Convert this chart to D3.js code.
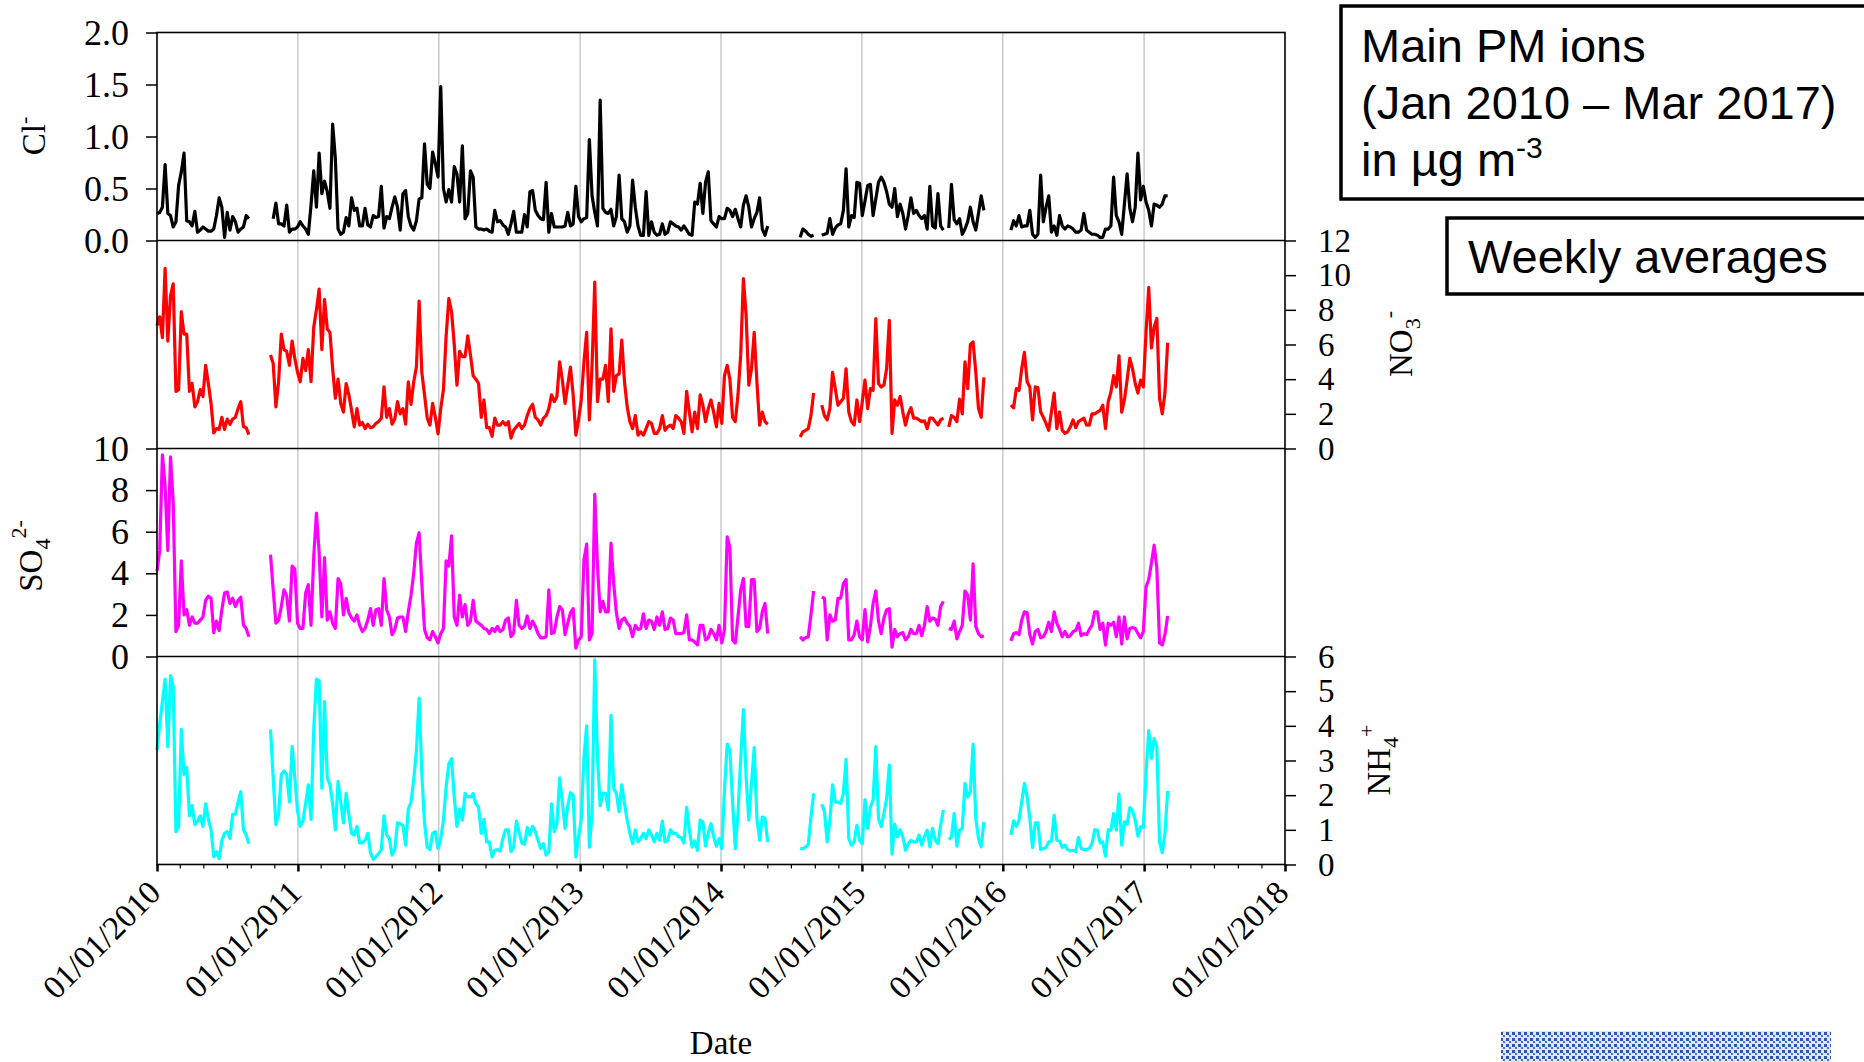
<!DOCTYPE html>
<html>
<head>
<meta charset="utf-8">
<script src="https://cdn.jsdelivr.net/npm/d3@7"></script>
<style>
  body { margin: 0; background: #fff; }
  .tick text { font-family: "Liberation Serif", "Times New Roman", serif; font-size: 36px; fill: #000; }
  .right .tick text { font-size: 33px; }
  .xaxis .tick text { font-size: 33px; }
  .ylab { font-family: "Liberation Serif", "Times New Roman", serif; font-size: 33px; }
  .box text { font-family: "Liberation Sans", Arial, sans-serif; font-size: 47px; }
</style>
</head>
<body>
<script>
// weekly samples, first one on 01/01/2010 (null = no data that week)
var weekStart = new Date(2010, 0, 1);

var clValues = [
  0.26,0.27,0.32,0.73,0.26,0.24,0.13,0.18,0.53,0.66,
  0.84,0.19,0.18,0.14,0.28,0.08,0.10,0.13,0.11,0.09,
  0.09,0.11,0.24,0.41,0.32,0.03,0.27,0.10,0.23,0.18,
  0.08,0.11,0.13,0.24,0.21,null,null,null,null,null,
  null,null,null,0.21,0.36,0.16,0.16,0.14,0.34,0.08,
  0.11,0.11,0.13,0.18,0.14,0.11,0.06,0.34,0.67,0.32,
  0.84,0.45,0.57,0.47,0.31,1.12,0.79,0.11,0.06,0.08,
  0.22,0.14,0.41,0.29,0.31,0.14,0.14,0.31,0.15,0.13,
  0.24,0.22,0.23,0.52,0.12,0.23,0.21,0.32,0.42,0.32,
  0.10,0.45,0.48,0.23,0.14,0.10,0.19,0.40,0.41,0.93,
  0.54,0.50,0.85,0.74,0.61,1.48,0.50,0.37,0.49,0.37,
  0.71,0.64,0.37,0.91,0.21,0.26,0.67,0.61,0.13,0.11,
  0.11,0.10,0.11,0.09,0.08,0.29,0.18,0.19,0.15,0.13,
  0.06,0.16,0.28,0.08,0.08,0.08,0.25,0.13,0.47,0.48,
  0.29,0.24,0.21,0.20,0.56,0.08,0.26,0.13,0.13,0.13,
  0.13,0.14,0.27,0.14,0.16,0.52,0.23,0.18,0.21,0.22,
  0.97,0.43,0.27,0.14,1.35,0.31,0.27,0.26,0.30,0.14,
  0.23,0.63,0.21,0.18,0.08,0.14,0.58,0.32,0.14,0.05,
  0.05,0.47,0.05,0.18,0.08,0.05,0.06,0.16,0.06,0.08,
  0.18,0.16,0.14,0.13,0.10,0.14,0.10,0.06,0.05,0.37,
  0.35,0.55,0.26,0.56,0.66,0.19,0.16,0.13,0.23,0.21,
  0.21,0.31,0.29,0.23,0.30,0.21,0.13,0.34,0.43,0.32,
  0.13,0.21,0.27,0.41,0.11,0.05,0.14,null,null,null,
  null,null,null,null,null,null,null,null,0.03,0.11,
  0.09,0.06,0.04,0.05,null,null,0.05,0.06,0.07,0.21,
  0.06,0.12,0.15,0.16,0.29,0.69,0.13,0.24,0.22,0.56,
  0.55,0.24,0.38,0.53,0.54,0.24,0.40,0.56,0.61,0.56,
  0.47,0.35,0.32,0.50,0.23,0.35,0.26,0.11,0.24,0.41,
  0.26,0.29,0.24,0.21,0.24,0.11,0.52,0.14,0.12,0.45,
  0.14,0.10,null,0.12,0.54,0.20,0.16,0.21,0.06,0.11,
  0.18,0.32,0.18,0.10,0.26,0.43,0.29,null,null,null,
  null,null,null,null,null,null,0.10,0.19,0.14,0.24,
  0.13,0.14,0.14,0.29,0.06,0.03,0.06,0.63,0.18,0.32,
  0.43,0.08,0.14,0.05,0.24,0.14,0.11,0.14,0.13,0.11,
  0.08,0.08,0.10,0.26,0.10,0.08,0.06,0.06,0.05,0.03,
  0.03,0.11,0.11,0.14,0.61,0.24,0.18,0.06,0.35,0.64,
  0.31,0.18,0.32,0.84,0.39,0.52,0.37,0.29,0.14,0.35,
  0.34,0.32,0.35,0.43,0.43
];

var no3Values = [
  7.1,7.6,6.4,10.4,6.2,8.8,9.5,3.3,3.4,7.9,
  6.6,6.6,3.3,3.75,2.4,2.7,3.4,3.0,4.8,3.75,
  2.6,0.9,1.15,1.1,1.8,1.1,1.7,1.4,1.7,1.8,
  2.3,2.7,1.25,1.2,0.8,null,null,null,null,null,
  null,null,5.4,4.9,2.4,3.85,6.6,5.7,5.6,4.8,
  6.2,5.2,4.4,3.85,5.2,4.5,5.7,3.85,7.0,8.0,
  9.2,5.7,8.6,6.9,6.7,4.6,2.9,4.0,2.6,2.1,
  3.75,3.1,2.2,1.25,2.3,1.35,1.5,1.15,1.4,1.2,
  1.25,1.45,1.55,1.75,3.55,1.8,2.3,1.4,1.7,2.7,
  2.0,2.3,1.4,3.85,2.55,3.85,4.7,8.5,4.4,3.1,
  1.75,1.35,2.6,1.8,0.85,2.3,3.4,6.5,8.65,7.9,
  6.0,3.65,5.6,5.3,5.3,6.5,5.4,4.2,4.0,3.75,
  1.8,2.8,1.2,1.2,0.7,1.75,1.35,1.35,1.55,1.35,
  1.55,0.6,1.05,1.25,1.45,1.15,1.35,1.9,2.3,2.55,
  1.8,1.65,1.35,1.75,1.9,2.3,3.1,2.7,3.0,5.0,
  3.95,2.6,3.65,4.7,3.1,0.77,1.65,2.8,5.0,6.7,
  1.65,4.8,9.6,2.7,4.0,4.0,4.8,2.7,6.9,3.3,
  4.2,4.3,6.25,3.85,2.4,1.55,1.15,1.9,0.77,0.96,
  0.77,1.15,1.55,1.45,0.87,0.87,1.15,1.9,1.05,1.25,
  1.35,1.15,1.9,1.75,1.55,0.87,3.3,2.1,0.96,2.1,
  1.15,3.1,2.5,1.55,2.3,2.8,2.1,1.25,2.6,1.45,
  4.2,4.8,4.0,1.8,1.55,3.1,5.4,9.8,7.7,3.65,
  4.6,6.7,3.85,1.35,2.1,1.55,1.4,null,null,null,
  null,null,null,null,null,null,null,null,0.67,0.96,
  1.05,1.15,1.9,3.2,null,null,2.5,1.9,1.65,2.3,
  4.4,3.45,2.5,2.7,2.9,4.6,2.1,1.55,1.35,2.8,
  1.55,2.7,3.95,2.3,3.45,3.35,7.5,3.75,3.55,3.65,
  4.6,7.4,0.87,2.8,2.5,3.0,2.1,1.35,2.0,2.35,
  1.75,1.75,1.65,1.55,1.6,1.15,1.75,1.75,1.55,1.35,
  1.65,1.75,null,1.25,1.9,1.8,1.55,2.85,2.0,5.0,
  3.45,6.0,6.15,4.4,2.3,1.8,4.1,null,null,null,
  null,null,null,null,null,null,2.5,2.35,3.45,3.35,
  4.6,5.55,3.85,3.55,1.65,3.55,3.5,2.1,1.8,1.45,
  1.05,2.1,3.2,1.15,2.1,1.05,0.87,0.96,1.25,1.65,
  1.2,1.55,1.65,1.75,1.35,1.35,2.0,2.0,2.1,2.2,
  2.5,1.15,2.7,3.25,4.2,3.55,5.35,2.1,2.8,3.95,
  5.2,4.6,3.75,3.2,3.95,3.55,6.7,9.3,5.8,7.0,
  7.5,2.9,2.0,3.2,6.1
];

var so4Values = [
  4.1,5.1,9.7,8.2,5.1,9.6,7.4,1.2,1.5,4.6,
  2.0,2.25,1.5,1.9,1.6,1.6,1.75,1.9,2.7,2.9,
  2.8,1.15,1.7,1.25,2.25,3.05,3.1,2.55,2.8,2.4,
  2.7,2.85,1.5,1.35,0.95,null,null,null,null,null,
  null,null,4.9,3.2,1.6,1.75,2.4,3.2,2.9,1.7,
  4.35,4.2,1.6,1.35,1.35,3.05,3.45,1.5,4.8,6.9,
  5.0,1.9,4.75,1.75,2.15,1.6,1.35,3.75,3.5,2.0,
  2.8,2.1,1.85,1.7,2.0,1.5,1.2,1.35,1.75,2.3,
  1.5,2.25,2.3,1.5,3.75,2.25,1.9,1.05,1.3,1.85,
  1.9,1.9,1.2,2.15,2.95,4.0,5.45,5.95,3.5,1.3,
  0.9,0.8,1.2,0.95,0.65,1.1,1.35,4.6,4.35,5.8,
  1.9,1.5,2.95,1.9,2.5,1.5,1.7,2.7,1.7,1.6,
  1.5,1.35,1.3,1.1,1.35,1.2,1.45,1.2,1.3,1.75,
  1.85,0.95,1.15,2.7,1.5,1.35,1.45,1.95,1.35,1.7,
  1.45,1.1,0.9,0.9,0.95,3.2,1.1,1.15,1.9,2.4,
  2.25,1.05,1.6,2.1,2.3,0.4,0.8,0.95,4.65,5.4,
  0.8,1.1,7.8,4.35,2.15,2.65,2.15,2.15,5.45,3.5,
  2.1,1.35,1.75,1.85,1.6,1.45,0.95,1.5,1.3,1.35,
  2.05,1.35,1.75,1.7,1.3,1.9,1.5,2.15,1.3,1.35,
  1.85,1.75,1.1,1.1,1.1,1.15,2.0,0.8,0.8,0.7,
  0.55,1.5,1.5,0.8,0.9,1.3,1.1,0.8,1.5,0.65,
  1.3,5.75,5.25,0.8,0.65,1.9,3.2,3.75,1.45,1.45,
  3.7,3.7,1.2,1.35,2.15,2.55,1.1,null,null,null,
  null,null,null,null,null,null,null,null,0.95,0.8,
  0.9,0.95,2.0,3.15,null,null,2.85,2.8,0.8,2.0,
  1.7,1.75,2.8,2.8,3.5,3.7,0.8,0.8,1.05,1.7,
  0.95,0.8,2.25,0.7,1.45,2.55,3.15,1.7,1.1,1.85,
  2.25,2.3,0.45,1.3,0.95,1.1,1.15,0.8,0.95,1.3,
  1.1,1.1,1.5,1.0,1.5,2.4,1.7,1.85,1.8,1.5,
  2.4,2.65,null,1.35,1.3,1.7,0.85,1.2,1.5,3.15,
  2.95,1.75,4.45,1.45,1.1,0.95,1.0,null,null,null,
  null,null,null,null,null,null,0.75,1.1,1.15,1.05,
  1.75,2.15,2.1,1.05,0.6,1.2,1.3,0.9,0.95,1.2,
  1.65,1.2,2.15,1.6,1.3,0.95,1.2,0.95,1.0,1.2,
  1.25,1.6,1.0,1.1,1.05,1.3,1.5,2.15,2.15,1.3,
  1.6,0.55,1.6,1.5,1.65,0.95,1.9,0.6,1.9,0.85,
  1.35,1.4,1.35,1.1,0.9,1.2,3.35,3.7,4.5,5.35,
  4.25,0.65,0.55,1.05,1.95
];

var nh4Values = [
  3.3,4.05,4.7,5.35,3.4,5.45,5.15,0.95,1.1,3.9,
  2.6,2.8,1.4,1.7,1.15,1.25,1.4,1.1,1.75,1.3,
  1.0,0.22,0.37,0.17,0.7,0.9,0.95,0.75,1.45,1.45,
  1.8,2.1,1.0,0.85,0.6,null,null,null,null,null,
  null,null,3.9,2.5,1.15,1.45,2.6,2.7,2.6,1.8,
  3.4,2.5,1.55,1.1,1.25,1.75,2.3,1.3,3.9,5.35,
  5.3,2.2,4.7,2.5,2.3,1.75,1.0,2.4,1.8,1.2,
  2.05,1.45,0.9,0.85,1.1,0.62,0.62,0.7,0.9,0.34,
  0.15,0.22,0.32,0.43,1.4,0.85,0.75,0.27,0.43,1.2,
  1.18,1.13,0.56,1.6,1.8,2.45,3.3,4.8,2.6,1.2,
  0.5,0.43,0.9,0.95,0.46,0.75,1.28,2.25,2.9,3.05,
  1.95,1.1,1.6,1.28,2.05,1.95,1.95,2.05,1.75,1.65,
  0.9,1.3,0.65,0.65,0.22,0.41,0.43,0.39,0.75,1.0,
  1.0,0.37,0.5,1.25,0.95,0.62,0.58,1.07,0.85,1.1,
  0.95,0.7,0.46,0.6,0.27,0.37,1.75,0.95,1.18,2.5,
  1.8,1.04,1.7,2.07,2.0,0.22,0.8,1.28,3.1,4.0,
  0.5,1.47,5.9,3.1,1.7,2.05,2.05,1.57,4.3,2.2,
  2.05,1.52,2.3,1.76,1.28,0.9,0.6,1.0,0.65,0.75,
  0.9,0.75,1.0,0.85,0.65,0.9,0.7,1.25,0.65,0.7,
  1.0,0.9,0.9,0.8,0.78,0.62,1.65,1.0,0.5,0.68,
  0.41,1.28,1.23,0.53,0.9,1.18,0.8,0.53,0.75,0.46,
  2.15,3.47,3.3,1.8,0.46,1.47,3.05,4.47,2.53,1.28,
  2.33,3.37,1.33,0.7,1.37,1.33,0.65,null,null,null,
  null,null,null,null,null,null,null,null,0.46,0.46,
  0.5,0.58,1.37,2.05,null,null,1.74,1.52,0.65,1.26,
  2.3,1.8,1.8,1.76,2.05,3.03,0.75,0.56,0.65,1.13,
  0.7,0.6,1.87,1.04,1.66,1.86,3.4,1.33,1.09,1.47,
  1.9,2.87,0.3,1.16,0.8,1.0,0.8,0.41,0.6,0.7,
  0.65,0.65,0.85,0.56,0.8,0.99,0.51,1.04,0.7,0.6,
  1.13,1.57,null,0.72,0.8,1.47,0.53,0.99,1.04,2.34,
  1.95,2.1,3.47,1.33,0.75,0.51,1.23,null,null,null,
  null,null,null,null,null,null,0.85,1.26,1.1,1.28,
  1.8,2.34,1.95,1.33,0.49,1.2,1.2,0.43,0.46,0.49,
  0.65,0.68,1.42,0.7,0.68,0.49,0.56,0.43,0.39,0.41,
  0.37,0.78,0.46,0.43,0.43,0.46,0.6,1.0,0.99,0.62,
  0.65,0.24,1.0,0.99,1.47,0.99,2.03,0.56,1.23,1.16,
  1.64,1.55,1.28,0.82,1.09,1.07,2.63,3.86,3.06,3.63,
  3.39,0.65,0.34,0.89,2.12
];

var clTicks = [0, 0.5, 1, 1.5, 2];
var no3Ticks = [0, 2, 4, 6, 8, 10, 12];
var so4Ticks = [0, 2, 4, 6, 8, 10];
var nh4Ticks = [0, 1, 2, 3, 4, 5, 6];
var infoLines = ["Main PM ions", "(Jan 2010 \u2013 Mar 2017)", "in \u00b5g m"];

var svgWidth = 1864, svgHeight = 1062;
var plotLeft = 157, plotRight = 1285, plotTop = 32.5, panelH = 208;

var svg = d3.select("body").append("svg")
  .attr("width", svgWidth)
  .attr("height", svgHeight);

var x = d3.scaleTime()
  .domain([new Date(2010, 0, 1), new Date(2018, 0, 1)])
  .range([plotLeft, plotRight]);

var dates = clValues.map(function(d, i) { return d3.timeDay.offset(weekStart, 7 * i); });

var panels = [
  { values: clValues, ticks: clTicks, side: "left", color: "#000000", fmt: d3.format(".1f") },
  { values: no3Values, ticks: no3Ticks, side: "right", color: "#ff0000", fmt: d3.format("d") },
  { values: so4Values, ticks: so4Ticks, side: "left", color: "#ff00ff", fmt: d3.format("d") },
  { values: nh4Values, ticks: nh4Ticks, side: "right", color: "#00ffff", fmt: d3.format("d") }
];
var plotBottom = plotTop + panelH * panels.length;

// year gridlines
svg.append("g").selectAll("line")
  .data(x.ticks(d3.timeYear.every(1)).slice(1, -1))
  .enter().append("line")
  .attr("x1", d => x(d)).attr("x2", d => x(d))
  .attr("y1", plotTop).attr("y2", plotBottom)
  .attr("stroke", "#bdbdbd").attr("stroke-width", 1.2);

panels.forEach(function(p, i) {
  var top = plotTop + i * panelH;
  var y = d3.scaleLinear()
    .domain([0, d3.max(p.ticks)])
    .range([top + panelH, top]);

  var line = d3.line()
    .defined(d => d.v != null)
    .x(d => x(d.date))
    .y(d => y(d.v));

  var pts = p.values.map(function(v, k) { return { date: dates[k], v: v }; });

  svg.append("path")
    .datum(pts)
    .attr("fill", "none")
    .attr("stroke", p.color)
    .attr("stroke-width", 3.2)
    .attr("stroke-linejoin", "round")
    .attr("d", line);

  var axis = p.side == "left" ? d3.axisLeft(y) : d3.axisRight(y);
  axis.tickValues(p.ticks).tickFormat(p.fmt)
    .tickSize(11).tickPadding(p.side == "left" ? 17 : 22);
  var g = svg.append("g")
    .attr("class", p.side)
    .attr("transform", `translate(${p.side == "left" ? plotLeft : plotRight},0)`)
    .call(axis);
  g.select(".domain").remove();
  g.selectAll(".tick line").attr("stroke", "#000").attr("stroke-width", 1.5);
});

// frame and panel separators
svg.append("rect")
  .attr("x", plotLeft).attr("y", plotTop)
  .attr("width", plotRight - plotLeft).attr("height", plotBottom - plotTop)
  .attr("fill", "none").attr("stroke", "#000").attr("stroke-width", 1.6);
svg.append("g").selectAll("line")
  .data(d3.range(1, panels.length))
  .enter().append("line")
  .attr("x1", plotLeft).attr("x2", plotRight)
  .attr("y1", d => plotTop + d * panelH).attr("y2", d => plotTop + d * panelH)
  .attr("stroke", "#000").attr("stroke-width", 1.6);

// date axis: minor ticks every 2 months, major every year
var minor = svg.append("g")
  .attr("transform", `translate(0,${plotBottom})`)
  .call(d3.axisBottom(x).ticks(d3.timeMonth.every(2)).tickFormat("").tickSize(4));
minor.select(".domain").remove();
minor.selectAll(".tick line").attr("stroke", "#000").attr("stroke-width", 1.2);

var major = svg.append("g")
  .attr("class", "xaxis")
  .attr("transform", `translate(0,${plotBottom})`)
  .call(d3.axisBottom(x).ticks(d3.timeYear.every(1)).tickFormat(d3.timeFormat("%d/%m/%Y")).tickSize(7));
major.select(".domain").remove();
major.selectAll(".tick line").attr("stroke", "#000").attr("stroke-width", 2.5);
major.selectAll(".tick text")
  .attr("text-anchor", "end")
  .attr("dy", null)
  .attr("y", 0)
  .attr("transform", "translate(5,30) rotate(-45)");

// axis titles
function rotLabel(cx, cy, main, sub, sup) {
  var t = svg.append("text").attr("class", "ylab")
    .attr("transform", `translate(${cx},${cy}) rotate(-90)`)
    .attr("text-anchor", "middle");
  t.append("tspan").text(main);
  if (sub) t.append("tspan").attr("font-size", "22px").attr("dy", 8).text(sub);
  if (sup) t.append("tspan").attr("font-size", "22px").attr("dy", sub ? -24 : -14).text(sup);
}
rotLabel(45, 136, "Cl", null, "-");
rotLabel(1412, 344, "NO", "3", "-");
rotLabel(42, 556, "SO", "4", "2-");
rotLabel(1390, 760, "NH", "4", "+");

svg.append("text").attr("class", "ylab")
  .attr("x", 721).attr("y", 1054)
  .attr("text-anchor", "middle")
  .text("Date");

// info boxes
var box = svg.append("g").attr("class", "box");
box.append("rect")
  .attr("x", 1341).attr("y", 6).attr("width", 540).attr("height", 193)
  .attr("fill", "#fff").attr("stroke", "#000").attr("stroke-width", 3.5);
box.selectAll("text.info")
  .data(infoLines)
  .enter().append("text")
  .attr("class", "info")
  .attr("x", 1361)
  .attr("y", (d, i) => 62 + i * 57)
  .text(d => d);
box.select("text.info:last-of-type")
  .append("tspan").attr("font-size", "30px").attr("dy", -18).text("-3");

box.append("rect")
  .attr("x", 1447).attr("y", 218).attr("width", 440).attr("height", 76)
  .attr("fill", "#fff").attr("stroke", "#000").attr("stroke-width", 3.5);
box.append("text").attr("x", 1468).attr("y", 273).text("Weekly averages");

// cropped logo strip, bottom right
var pat = svg.append("defs").append("pattern")
  .attr("id", "dots").attr("width", 6).attr("height", 6)
  .attr("patternUnits", "userSpaceOnUse");
pat.append("rect").attr("width", 6).attr("height", 6).attr("fill", "#dfe6f5");
pat.append("rect").attr("width", 3).attr("height", 3).attr("fill", "#2b55b5");
pat.append("rect").attr("x", 3).attr("y", 3).attr("width", 2).attr("height", 2).attr("fill", "#4b72c8");
svg.append("rect")
  .attr("x", 1501).attr("y", 1031).attr("width", 330).attr("height", 31)
  .attr("fill", "url(#dots)");
</script>
</body>
</html>
